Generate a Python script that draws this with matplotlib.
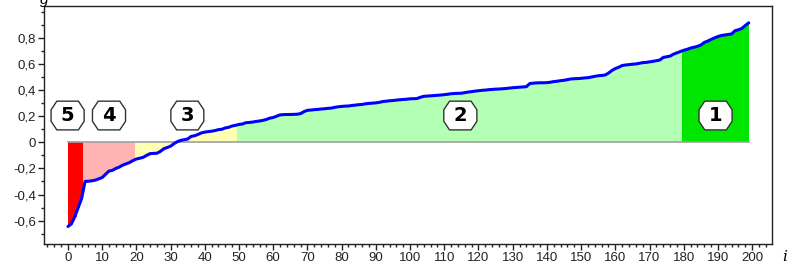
import numpy as np
import matplotlib.pyplot as plt
from matplotlib.path import Path
from matplotlib.ticker import MultipleLocator, FuncFormatter

# sorted values g(i), i = 0..199
vals = [
    -0.645, -0.625, -0.57, -0.50, -0.43,
    -0.30, -0.298, -0.295, -0.29, -0.28, -0.27, -0.245, -0.22, -0.215, -0.20,
    -0.19, -0.175, -0.165, -0.155, -0.14,
    -0.128, -0.122, -0.115, -0.10, -0.087, -0.085, -0.084, -0.07, -0.05, -0.04,
    -0.03, -0.01,
    0.005, 0.015, 0.02, 0.025, 0.045, 0.05, 0.06, 0.072, 0.078, 0.082, 0.085,
    0.09, 0.097, 0.10, 0.11, 0.115, 0.125, 0.13,
    0.137, 0.14, 0.15, 0.152, 0.155, 0.16, 0.163, 0.168, 0.175, 0.185,
    0.19, 0.20, 0.21, 0.212, 0.213, 0.213, 0.214, 0.215, 0.22, 0.235,
    0.245, 0.247, 0.25, 0.252, 0.255, 0.257, 0.26, 0.262, 0.268, 0.272,
    0.275, 0.277, 0.278, 0.282, 0.285, 0.288, 0.29, 0.295, 0.298, 0.30,
    0.302, 0.306, 0.312, 0.315, 0.318, 0.32, 0.323, 0.326, 0.328, 0.33,
    0.333, 0.334, 0.335, 0.345, 0.352, 0.354, 0.356, 0.358, 0.36, 0.362,
    0.365, 0.368, 0.372, 0.374, 0.375, 0.376, 0.38, 0.385, 0.388, 0.392,
    0.395, 0.398, 0.40, 0.403, 0.405, 0.407, 0.408, 0.41, 0.412, 0.415,
    0.418, 0.42, 0.422, 0.424, 0.426, 0.45, 0.453, 0.455, 0.456, 0.456,
    0.457, 0.46, 0.465, 0.468, 0.472, 0.475, 0.48, 0.485, 0.487, 0.488,
    0.49, 0.493, 0.495, 0.50, 0.505, 0.51, 0.512, 0.515, 0.53, 0.55,
    0.565, 0.575, 0.588, 0.592, 0.595, 0.598, 0.60, 0.605, 0.61, 0.612,
    0.616, 0.62, 0.625, 0.63, 0.65, 0.655, 0.66, 0.675, 0.685, 0.695,
    0.705, 0.712, 0.722, 0.728, 0.735, 0.745, 0.765, 0.775, 0.788, 0.80,
    0.81, 0.818, 0.822, 0.826, 0.83, 0.855, 0.862, 0.872, 0.895, 0.915,
]

# groups: first index of each group, colour, label, label position
group_start = [0, 5, 20, 50, 180]
group_color = ["#ff0000", "#ffb3b3", "#ffffb3", "#b3ffb3", "#00e600"]
group_label = ["5", "4", "3", "2", "1"]
label_x = [-0.1, 12, 34.9, 114.7, 189.3]
label_y = 0.205

plt.rcParams['font.family'] = ['Liberation Sans', 'DejaVu Sans']

idx = np.arange(len(vals))
vals = np.array(vals)
colors = []
for i in idx:
    k = np.searchsorted(group_start, i, side='right') - 1
    colors.append(group_color[k])

fig = plt.figure(figsize=(7.88, 2.67), dpi=100)
ax = fig.add_axes([44 / 788, 23 / 267, 728 / 788, 238 / 267])

lefts = np.clip(idx - 0.5, 0, idx[-1])
rights = np.clip(idx + 0.5, 0, idx[-1])
ax.bar(lefts, vals, width=rights - lefts, align='edge', color=colors,
       linewidth=0, zorder=1)
ax.plot([idx[0], idx[-1]], [0, 0], color="#a0a0a0", lw=1.2, zorder=2)
ax.plot(idx, vals, color="#0000ff", lw=2.2, zorder=3, solid_capstyle='round')


def hexbox(x0, y0, width, height, mutation_size):
    padx = 0.5 * mutation_size
    pady = 0.25 * mutation_size
    x0, x1 = x0 - padx, x0 + width + padx
    y0, y1 = y0 - pady, y0 + height + pady
    h = y1 - y0
    cx = 0.2 * h
    cy = 0.3 * h
    verts = [(x0 + cx, y0), (x1 - cx, y0), (x1, y0 + cy), (x1, y1 - cy),
             (x1 - cx, y1), (x0 + cx, y1), (x0, y1 - cy), (x0, y0 + cy),
             (x0 + cx, y0)]
    return Path(verts, closed=True)


for lab, lx in zip(group_label, label_x):
    ax.text(lx, label_y, lab, ha='center', va='center', fontsize=14,
            fontweight='bold', family=['DejaVu Sans'], zorder=5,
            bbox=dict(boxstyle=hexbox, fc='white', ec='#333333', lw=1.0))

ax.set_xlim(-7, 205.8)
ax.set_ylim(-0.779, 1.044)
ax.set_xticks(np.arange(0, 201, 10))
ax.xaxis.set_minor_locator(MultipleLocator(2))
ax.set_yticks(np.arange(-0.6, 0.81, 0.2))
ax.yaxis.set_minor_locator(MultipleLocator(0.1))
ax.yaxis.set_major_formatter(FuncFormatter(
    lambda v, p: "0" if abs(v) < 1e-9 else f"{v:.1f}".replace(".", ",")))
ax.tick_params(which='major', length=4, width=1, labelsize=9.5, pad=1.5,
               colors='#222222')
ax.tick_params(which='minor', length=2.5, width=1, colors='#222222')
for s in ax.spines.values():
    s.set_color('#222222')
    s.set_linewidth(1.0)

fig.text(785 / 788, 10 / 267, "i", style='italic', fontsize=11,
         ha='center', va='center', family=['DejaVu Serif'])
fig.text(44 / 788, 1.0, "g", style='italic', fontsize=11,
         ha='center', va='center')

fig.savefig("out.png", dpi=100)
